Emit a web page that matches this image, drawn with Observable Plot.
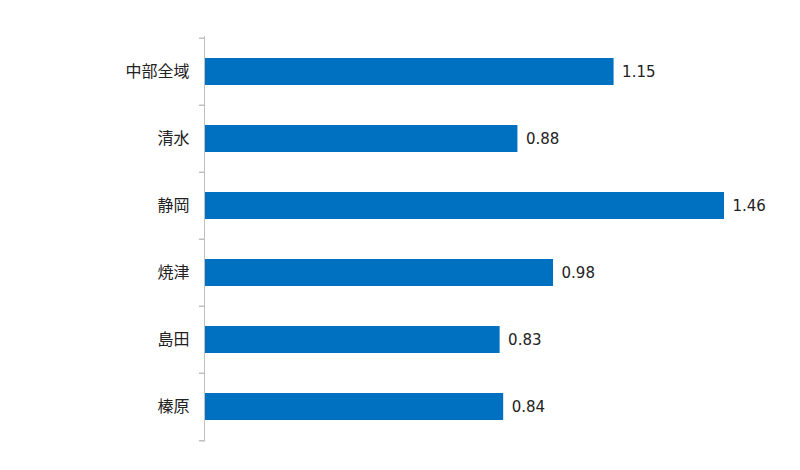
<!DOCTYPE html>
<html>
<head>
<meta charset="utf-8">
<script src="https://cdn.jsdelivr.net/npm/d3@7"></script>
<script src="https://cdn.jsdelivr.net/npm/@observablehq/plot@0.6"></script>
<style>
  html, body { margin: 0; padding: 0; background: #fff; }
  #chart { width: 800px; height: 470px; }
</style>
</head>
<body>
<div id="chart"></div>
<script>
const categories = ["中部全域", "清水", "静岡", "焼津", "島田", "榛原"];
const values = [1.15, 0.88, 1.46, 0.98, 0.83, 0.84];
const valueLabels = ["1.15", "0.88", "1.46", "0.98", "0.83", "0.84"];

const data = categories.map((c, i) => ({ area: c, value: values[i], label: valueLabels[i] }));

const W = 800, H = 470;
const mTop = 36, mBottom = 29, mLeft = 204, mRight = 76;
const step = (H - mTop - mBottom) / categories.length;

const tickShape = {
  draw(context, l) {
    context.moveTo(0, 0);
    context.lineTo(0, -l);
  }
};

const chart = Plot.plot({
  width: W,
  height: H,
  marginTop: mTop,
  marginBottom: mBottom,
  marginLeft: mLeft,
  marginRight: mRight,
  style: { background: "#fff", overflow: "visible" },
  x: { domain: [0, 1.46], axis: null },
  y: { domain: categories, paddingInner: 0.6, paddingOuter: 0.3, label: null },
  marks: [
    Plot.barX(data, { x: "value", y: "area", fill: "#0070C0" }),
    Plot.ruleX([0], { stroke: "#c0c0c0", strokeWidth: 1 }),
    Plot.vector(categories, { x: () => 0, y: d => d, length: 5, rotate: -90, anchor: "start", shape: tickShape, stroke: "#c0c0c0", dy: -step / 2 }),
    Plot.vector(categories.slice(-1), { x: () => 0, y: d => d, length: 5, rotate: -90, anchor: "start", shape: tickShape, stroke: "#c0c0c0", dy: step / 2 }),
    Plot.axisY({ tickSize: 0, tickPadding: 15, fontSize: 16, fontFamily: "'Noto Sans CJK JP', sans-serif", fill: "#222", label: null }),
    Plot.text(data, { x: "value", y: "area", text: "label", dx: 8, textAnchor: "start", fontSize: 15, fontFamily: "'DejaVu Sans', sans-serif", fill: "#222" })
  ]
});

document.getElementById("chart").appendChild(chart);
</script>
</body>
</html>
